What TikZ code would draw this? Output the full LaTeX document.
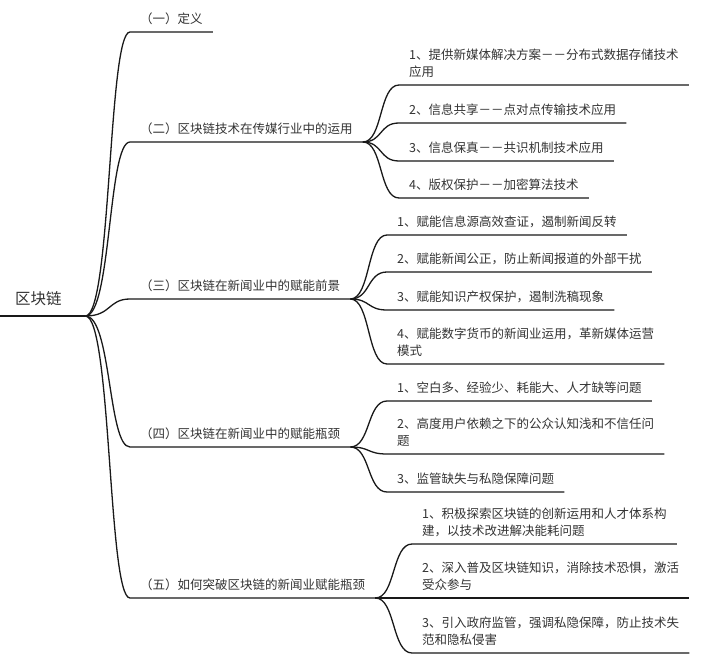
\documentclass[tikz,border=0pt]{standalone}
\usepackage{fontspec}
\setmainfont{Noto Sans CJK SC}
\begin{document}
\begin{tikzpicture}[x=1pt,y=-1pt,
  topic/.style={anchor=south west,inner xsep=10pt,inner ysep=7pt,align=left,text=black!80,font=\fontsize{12.5}{17}\selectfont},
  leaf/.style={topic,inner xsep=10pt},
  limb/.style={line width=1.3pt,black!90}]
\useasboundingbox (0,0) rectangle (720,660);
\node[topic,inner xsep=15pt,inner ysep=10pt,text width=55pt,font=\fontsize{15.5}{18}\selectfont] (root) at (0,316) {区块链};

\node[topic] (b1) at (130,32) {（一）定义};
\node[topic] (b2) at (130,142) {（二）区块链技术在传媒行业中的运用};
\node[topic] (b3) at (130,299) {（三）区块链在新闻业中的赋能前景};
\node[topic] (b4) at (130,447) {（四）区块链在新闻业中的赋能瓶颈};
\node[topic] (b5) at (130,598) {（五）如何突破区块链的新闻业赋能瓶颈};

\node[leaf] (b2a) at (399,85) {1、提供新媒体解决方案－－分布式数据存储技术\\应用};
\node[leaf] (b2b) at (399,123) {2、信息共享－－点对点传输技术应用};
\node[leaf] (b2c) at (399,161) {3、信息保真－－共识机制技术应用};
\node[leaf] (b2d) at (399,198) {4、版权保护－－加密算法技术};

\node[leaf] (b3a) at (387,235) {1、赋能信息源高效查证，遏制新闻反转};
\node[leaf] (b3b) at (387,272) {2、赋能新闻公正，防止新闻报道的外部干扰};
\node[leaf] (b3c) at (387,310) {3、赋能知识产权保护，遏制洗稿现象};
\node[leaf] (b3d) at (387,364) {4、赋能数字货币的新闻业运用，革新媒体运营\\模式};

\node[leaf] (b4a) at (387,401) {1、空白多、经验少、耗能大、人才缺等问题};
\node[leaf] (b4b) at (387,454) {2、高度用户依赖之下的公众认知浅和不信任问\\题};
\node[leaf] (b4c) at (387,492) {3、监管缺失与私隐保障问题};

\node[leaf] (b5a) at (412,544) {1、积极探索区块链的创新运用和人才体系构\\建，以技术改进解决能耗问题};
\node[leaf] (b5b) at (412,598) {2、深入普及区块链知识，消除技术恐惧，激活\\受众参与};
\node[leaf] (b5c) at (412,653) {3、引入政府监管，强调私隐保障，防止技术失\\范和隐私侵害};

\draw[limb] (root.south west) -- (root.south east);
\foreach \k in {b1,b2,b3,b4,b5}
  \draw[limb] (root.south east) .. controls +(26,0) and +(-22,0) .. (\k.south west) -- (\k.south east);
\foreach \k in {b2a,b2b,b2c,b2d}
  \draw[limb] (b2.south east) .. controls +(20,0) and +(-20,0) .. (\k.south west) -- (\k.south east);
\foreach \k in {b3a,b3b,b3c,b3d}
  \draw[limb] (b3.south east) .. controls +(20,0) and +(-20,0) .. (\k.south west) -- (\k.south east);
\foreach \k in {b4a,b4b,b4c}
  \draw[limb] (b4.south east) .. controls +(20,0) and +(-20,0) .. (\k.south west) -- (\k.south east);
\foreach \k in {b5a,b5b,b5c}
  \draw[limb] (b5.south east) .. controls +(20,0) and +(-20,0) .. (\k.south west) -- (\k.south east);
\end{tikzpicture}
\end{document}
